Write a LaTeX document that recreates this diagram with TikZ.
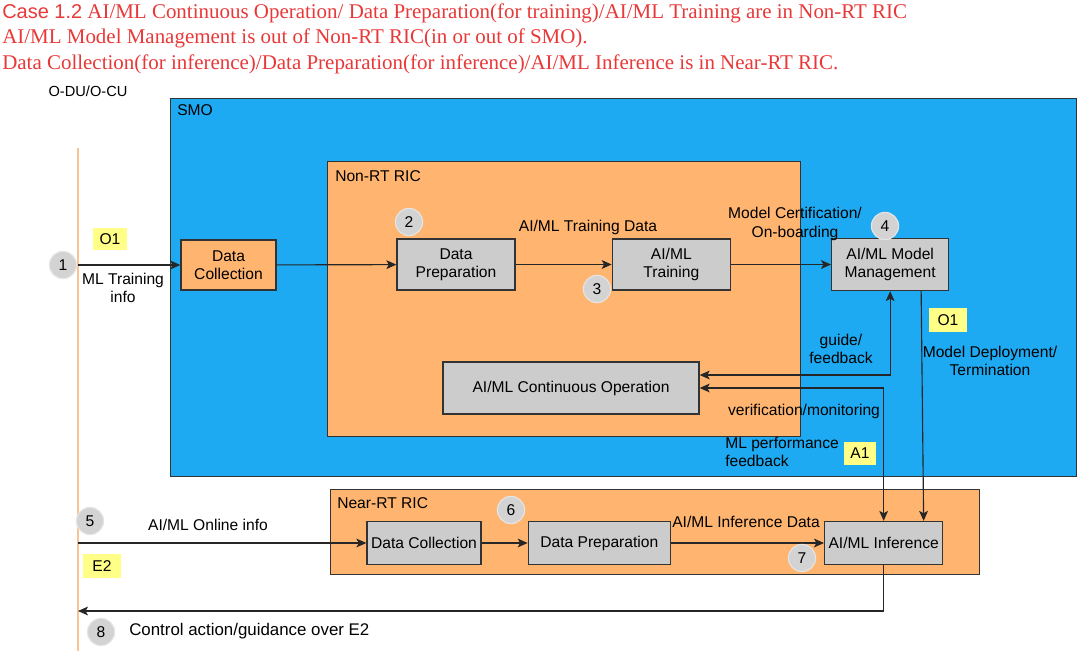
\documentclass[tikz,border=0pt]{standalone}
\usepackage{fontspec}
\setmainfont{Liberation Serif}
\setsansfont{Liberation Sans}
\usetikzlibrary{arrows.meta,positioning,calc}
\definecolor{smoblue}{RGB}{30,170,242}
\definecolor{ricorange}{RGB}{255,181,112}
\definecolor{boxgray}{RGB}{204,204,204}
\definecolor{stepgray}{RGB}{211,211,211}
\definecolor{tagyellow}{RGB}{255,255,136}
\definecolor{titlered}{RGB}{232,56,56}
\definecolor{linkorange}{RGB}{248,196,150}

\begin{document}
\begin{tikzpicture}[x=0.025cm, y=-0.025cm,
font=\sffamily\fontsize{11.1}{13}\selectfont,
zone/.style={draw=black!80, line width=0.8pt, anchor=north west, inner sep=0pt},
lbl/.style={anchor=north west, inner sep=0pt},
box/.style={draw=black!80, fill=boxgray, line width=0.9pt, minimum width=2.95cm, minimum height=1.275cm, align=center, inner sep=1pt},
obox/.style={box, fill=ricorange},
num/.style={circle, fill=stepgray, draw=stepgray!60, line width=0.8pt, minimum size=0.68cm, inner sep=0pt},
tag/.style={fill=tagyellow, inner sep=0pt, minimum width=0.9cm, minimum height=0.6cm},
arrow/.style={-{Stealth[length=2.5mm, width=2.2mm, inset=0.6mm]}, line width=0.8pt, black!85},
darrow/.style={{Stealth[length=2.5mm, width=2.2mm, inset=0.6mm]}-{Stealth[length=2.5mm, width=2.2mm, inset=0.6mm]}, line width=0.8pt, black!85},
heading/.style={anchor=base west, inner sep=0pt, text=titlered, font=\rmfamily\fontsize{14.9}{17.8}\selectfont}]
\useasboundingbox (0,0) rectangle (1078,651);

% title
\node[heading] (t1) at (2,19) {{\sffamily\fontsize{14.2}{17}\selectfont Case 1.2} AI/ML Continuous Operation/ Data Preparation(for training)/AI/ML Training are in Non-RT RIC};
\node[heading] (t2) at (2,44) {AI/ML Model Management is out of Non-RT RIC(in or out of SMO).};
\node[heading] (t3) at (2,69) {Data Collection(for inference)/Data Preparation(for inference)/AI/ML Inference is in Near-RT RIC.};

% containers
\node[font=\sffamily\fontsize{10.4}{12}\selectfont] (du) at (88,91) {O-DU/O-CU};
\draw[linkorange, line width=0.8pt] (78,148) -- (78,651);
\node[zone, fill=smoblue, minimum width=22.65cm, minimum height=9.45cm] (smo) at (170,98) {};
\node[lbl] at (177,104) {SMO};
\node[zone, fill=ricorange, minimum width=11.825cm, minimum height=6.875cm] (nrt) at (327,161) {};
\node[lbl] at (335,170) {Non-RT RIC};
\node[zone, fill=ricorange, minimum width=16.225cm, minimum height=2.125cm] (near) at (330,489) {};
\node[lbl] at (337,497) {Near-RT RIC};

% Non-RT RIC / SMO functions
\node[obox, minimum width=2.375cm, minimum height=1.25cm] (a) at (228.5,265) {Data\\Collection};
\node[box] (b) at (456,264.5) {Data\\Preparation};
\node[box, right=2.4cm of b] (c) {AI/ML\\Training};
\node[box, right=2.5cm of c, minimum width=2.925cm, minimum height=1.3cm] (d) {AI/ML Model\\Management};
\node[box, minimum width=6.4cm, minimum height=1.3cm] (e) at (571,388) {AI/ML Continuous Operation};

% Near-RT RIC functions
\node[box, minimum width=2.85cm, minimum height=1.075cm] (f) at (424,543) {Data Collection};
\node[box, right=1.15cm of f, minimum width=3.55cm, minimum height=1.075cm] (g) {Data Preparation};
\node[box, right=3.825cm of g, minimum height=1.075cm] (h) {AI/ML Inference};

% interfaces
\coordinate (in1) at (78,265);
\coordinate (in2) at (78,543);
\coordinate (out) at (78,611);
\draw[arrow] (in1) -- (a);
\draw[arrow] (a) -- (b);
\draw[arrow] (b) -- (c);
\draw[arrow] (c) -- (d);
\draw[darrow] ($(e.east)+(0,-13)$) -| (d.south);
\draw[darrow] (e.east) -| (h.north);
\draw[arrow] ($(d.south)+(31,0)$) -- ($(h.north)+(40,0)$);
\draw[arrow] (in2) -- (f);
\draw[arrow] (f) -- (g);
\draw[arrow] (g) -- (h);
\draw[arrow] (h.south) |- (out);

% labels
\node[align=center] (l1) at (123,288) {ML Training\\info};
\node (l2) at (588,227) {AI/ML Training Data};
\node[align=center] (l3) at (795,224) {Model Certification/\\On-boarding};
\node[align=center] (l4) at (841,349) {guide/\\feedback};
\node[align=center] (l5) at (990,361) {Model Deployment/\\Termination};
\node (l6) at (804,411) {verification/monitoring};
\node[align=left, anchor=west, inner sep=0pt] (l7) at (725,452) {ML performance\\feedback};
\node (l8) at (208,525) {AI/ML Online info};
\node (l9) at (746,522) {AI/ML Inference Data};
\node[anchor=west, inner sep=0pt, font=\sffamily\fontsize{12}{14}\selectfont] (l10) at (129,631) {Control action/guidance over E2};

% interface tags
\node[tag, minimum width=0.85cm, minimum height=0.55cm] (o1a) at (110,239) {O1};
\node[tag, minimum width=0.95cm] (o1b) at (948,320) {O1};
\node[tag, minimum width=0.8cm, minimum height=0.575cm] (a1) at (860,453) {A1};
\node[tag, minimum width=0.95cm] (e2) at (102,566) {E2};

% step numbers
\node[num] (n1) at (63,265) {1};
\node[num] (n2) at (409,222) {2};
\node[num] (n3) at (597,289) {3};
\node[num] (n4) at (885,226) {4};
\node[num] (n5) at (90,521) {5};
\node[num] (n6) at (511,510) {6};
\node[num] (n7) at (802,558) {7};
\node[num] (n8) at (101,632) {8};
\end{tikzpicture}
\end{document}
